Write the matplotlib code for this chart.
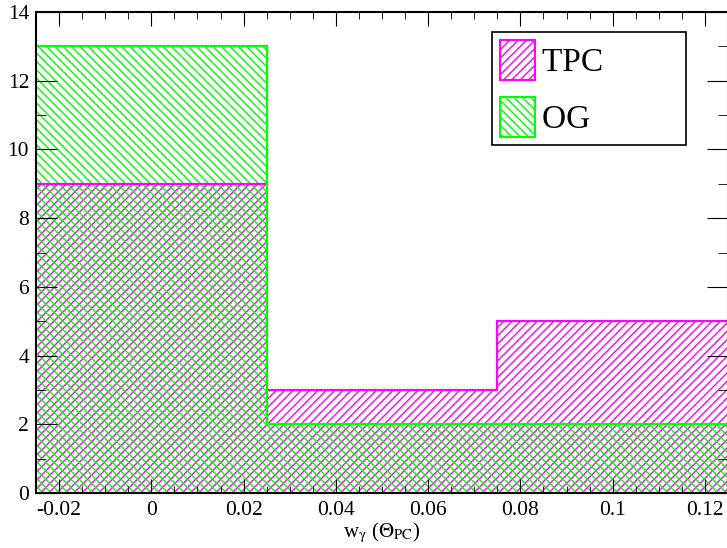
import matplotlib
matplotlib.use("Agg")
import matplotlib.pyplot as plt
from matplotlib.patches import Patch
from matplotlib.ticker import MultipleLocator

plt.rcParams['font.family'] = ['Liberation Serif', 'DejaVu Serif']
plt.rcParams['mathtext.fontset'] = 'stix'
plt.rcParams['hatch.linewidth'] = 1.0

# bin edges and counts
edges = [-0.025, 0.025, 0.075, 0.125]
tpc = [9, 3, 5]
og = [13, 2, 2]
labels = ['TPC', 'OG']
colors = ['#ff00ff', '#00ff00']
hatches = ['////', '\\\\\\\\']
xticks = [-0.02, 0, 0.02, 0.04, 0.06, 0.08, 0.1, 0.12]
xticklabels = ['-0.02', '0', '0.02', '0.04', '0.06', '0.08', '0.1', '0.12']

fig = plt.figure(figsize=(7.27, 5.48), dpi=100)
ax = fig.add_axes([36/727, 55/548, 692/727, 481/548])

for vals, col, h in zip([tpc, og], colors, hatches):
    yy = vals + [vals[-1]]
    ax.fill_between(edges, yy, 0, step='post', facecolor='none',
                    edgecolor=col, hatch=h, linewidth=0)
for vals, col in zip([tpc, og], colors):
    yy = vals + [vals[-1]]
    ax.step(edges, yy, where='post', color=col, lw=1.6, clip_on=False)

ax.set_xlim(-0.025, 0.125)
ax.set_ylim(0, 14)
ax.xaxis.set_minor_locator(MultipleLocator(0.005))
ax.yaxis.set_major_locator(MultipleLocator(2))
ax.yaxis.set_minor_locator(MultipleLocator(1))
ax.set_xticks(xticks)
ax.set_xticklabels(xticklabels)
ax.tick_params(which='both', direction='in', top=True, right=True, labelsize=15.5)
ax.tick_params(axis='x', which='major', length=10, pad=6)
ax.tick_params(axis='x', which='minor', length=5)
ax.tick_params(axis='y', which='major', length=15, pad=5)
ax.tick_params(axis='y', which='minor', length=7)
for s in ax.spines.values():
    s.set_linewidth(1.5)

ax.set_xlabel(r'w$_{\mathrm{\gamma}}$ ($\Theta_{\rm PC}$)', fontsize=15, labelpad=0)

# legend box is wider than its text in the original, pad labels with spaces
handles = [Patch(facecolor='none', edgecolor=c, hatch=h, linewidth=1.5)
           for c, h in zip(colors, hatches)]
leg = ax.legend(handles, [l + ' ' * 9 for l in labels], loc='upper left',
                bbox_to_anchor=(0.659, 0.958),
                fontsize=24, frameon=True, fancybox=False, edgecolor='black',
                framealpha=1, handlelength=1.05, handleheight=1.47,
                handletextpad=0.2, borderpad=0.24, labelspacing=0.5,
                borderaxespad=0)
leg.get_frame().set_linewidth(1.2)

fig.savefig('out.png', dpi=100)
